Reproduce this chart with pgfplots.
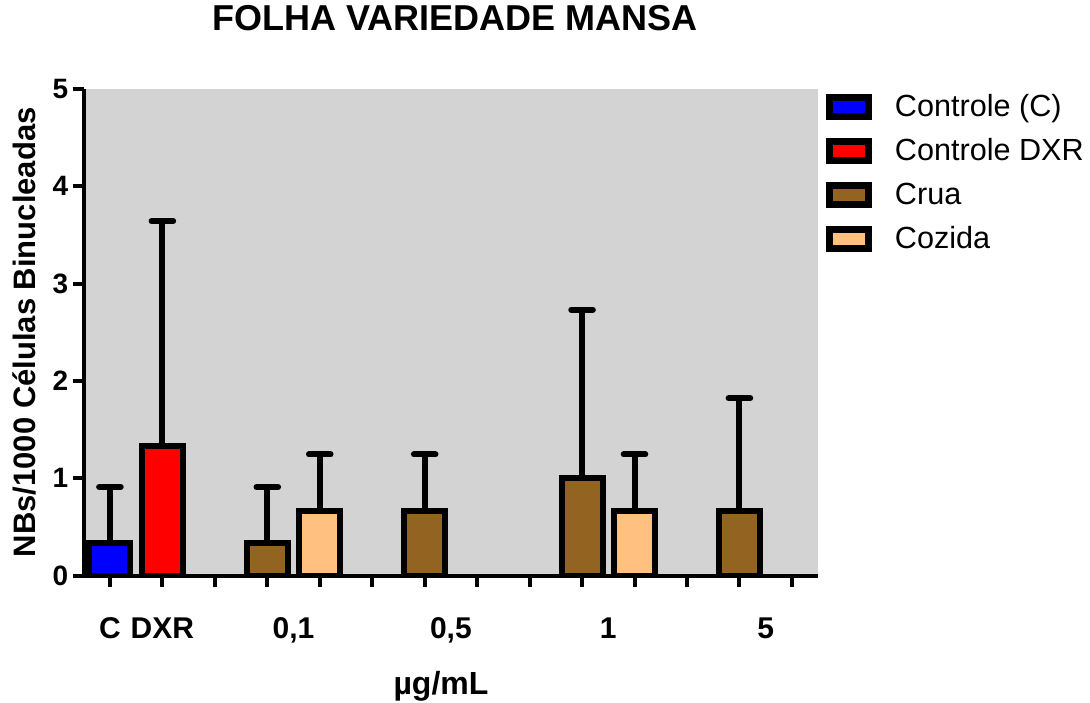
\documentclass[border=0pt]{standalone}
\usepackage{fontspec}
\setmainfont{Liberation Sans}
\usepackage{pgfplots}
\pgfplotsset{compat=1.18}
\definecolor{bgGray}{RGB}{211,211,211}
\definecolor{cBlue}{RGB}{0,0,255}
\definecolor{cRed}{RGB}{255,0,0}
\definecolor{cBrown}{RGB}{147,99,33}
\definecolor{cPeach}{RGB}{255,192,128}
\pgfplotsset{mybar/.style={ybar, bar width=0.78, bar shift=0pt, draw=black, line width=3pt,
    error bars/y dir=plus, error bars/y explicit,
    error bars/error bar style={line width=3pt, black},
    error bars/error mark options={rotate=90, line width=3pt, mark size=5.4pt, line cap=round, black}}}
\begin{document}
\begin{tikzpicture}
\path[use as bounding box] (-41.85pt,-63.25pt) rectangle (503.15pt,287.75pt);
\begin{axis}[
  scale only axis,
  width=367.2pt, height=243.25pt,
  xmin=-0.5, xmax=13.5, ymin=0, ymax=5,
  axis x line*=bottom, axis y line*=left,
  axis line style={line width=2pt, black},
  axis background/.style={fill=bgGray},
  clip mode=individual,
  tick align=outside,
  major tick length=5.5pt,
  xtick={0,...,13}, xticklabels={},
  ytick={0,...,5}, minor tick num=0,
  tick style={line width=2pt, black},
  /pgf/number format/assume math mode=true,
  yticklabel style={font=\bfseries\fontsize{14}{14}\selectfont, anchor=east, inner sep=0pt, xshift=-2pt},
  title={FOLHA VARIEDADE MANSA},
  title style={font=\bfseries\fontsize{18}{20}\selectfont, at={(axis description cs:0.5057,1.0946)}, anchor=base},
  ylabel={NBs/1000 Células Binucleadas},
  every axis y label/.style={at={(axis description cs:-0.0663,0.5)}, rotate=90, anchor=base, font=\bfseries\fontsize{15.5}{16}\selectfont},
  xlabel={µg/mL},
  every axis x label/.style={at={(axis description cs:0.4865,-0.2436)}, anchor=base, font=\bfseries\fontsize{16}{16}\selectfont},
  legend cell align=left,
  legend style={at={(axis description cs:1.0114,0.9898)}, anchor=north west, draw=none, fill=none,
    inner sep=0pt, outer sep=0pt, row sep=7.2pt,
    font=\fontsize{15.3}{16}\selectfont,
    nodes={inner sep=0pt, text height=11pt, text depth=3.5pt},
    /tikz/every odd column/.append style={column sep=11.25pt}},
  legend image code/.code={\draw[#1, line width=3.5pt] (1.75pt,-3.75pt) rectangle (21.25pt,5.75pt);},
]
\addplot[mybar, fill=cBlue] coordinates {(0,0.333) +- (0,0.577)};
\addlegendentry{Controle (C)}
\addplot[mybar, fill=cRed] coordinates {(1,1.333) +- (0,2.309)};
\addlegendentry{Controle DXR}
\addplot[mybar, fill=cBrown] coordinates {(3,0.333) +- (0,0.577) (6,0.667) +- (0,0.577) (9,1.0) +- (0,1.732) (12,0.667) +- (0,1.155)};
\addlegendentry{Crua}
\addplot[mybar, fill=cPeach] coordinates {(4,0.667) +- (0,0.577) (10,0.667) +- (0,0.577)};
\addlegendentry{Cozida}
\node[anchor=base, font=\bfseries\fontsize{15}{15}\selectfont, yshift=-31.25pt] at (axis cs:0,0) {C};
\node[anchor=base, font=\bfseries\fontsize{15}{15}\selectfont, yshift=-31.25pt] at (axis cs:1,0) {DXR};
\node[anchor=base, font=\bfseries\fontsize{15}{15}\selectfont, yshift=-31.25pt] at (axis cs:3.5,0) {0,1};
\node[anchor=base, font=\bfseries\fontsize{15}{15}\selectfont, yshift=-31.25pt] at (axis cs:6.5,0) {0,5};
\node[anchor=base, font=\bfseries\fontsize{15}{15}\selectfont, yshift=-31.25pt] at (axis cs:9.5,0) {1};
\node[anchor=base, font=\bfseries\fontsize{15}{15}\selectfont, yshift=-31.25pt] at (axis cs:12.5,0) {5};
\end{axis}
\end{tikzpicture}
\end{document}
